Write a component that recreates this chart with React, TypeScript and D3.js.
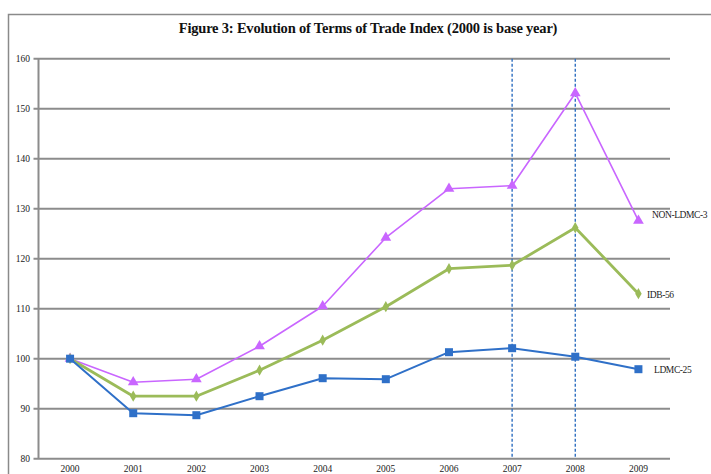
import React from "react";
import * as d3 from "d3";

const years = ["2000","2001","2002","2003","2004","2005","2006","2007","2008","2009"];
const ldmc25 = [100, 89.1, 88.7, 92.5, 96.1, 95.9, 101.3, 102.1, 100.4, 97.9];
const idb56 = [100, 92.5, 92.5, 97.7, 103.7, 110.4, 118.0, 118.7, 126.2, 113.0];
const nonLdmc3 = [100, 95.3, 95.9, 102.5, 110.5, 124.2, 134.0, 134.6, 153.1, 127.6];
const yTicks = [80, 90, 100, 110, 120, 130, 140, 150, 160];
const markedYears = ["2007", "2008"];

const W = 711, H = 474;
const left = 38.5, right = 670, top = 58.7, bottom = 458.7;

export default function App() {
  const x = d3.scalePoint<string>().domain(years).range([left, right]).padding(0.5);
  const y = d3.scaleLinear().domain([80, 160]).range([bottom, top]);
  const line = d3.line<number>().x((_, i) => x(years[i])!).y(d => y(d));
  const font = "'Liberation Serif', 'Times New Roman', serif";

  const series = [
    { name: "NON-LDMC-3", data: nonLdmc3, color: "#C966FF", width: 1.6, marker: "tri", lx: 652, ldy: -3 },
    { name: "IDB-56", data: idb56, color: "#9BBB59", width: 2.8, marker: "dia", lx: 647, ldy: 4 },
    { name: "LDMC-25", data: ldmc25, color: "#2F70C8", width: 2, marker: "sq", lx: 654, ldy: 4 },
  ];

  const marker = (type: string, cx: number, cy: number, color: string, key: string) => {
    if (type === "sq") return <rect key={key} x={cx - 4} y={cy - 4} width={8} height={8} fill={color} />;
    if (type === "tri") return <path key={key} d={d3.symbol(d3.symbolTriangle, 50)()!} transform={`translate(${cx},${cy})`} fill={color} />;
    return <path key={key} d={d3.symbol(d3.symbolDiamond, 36)()!} transform={`translate(${cx},${cy})`} fill={color} />;
  };

  return (
    <svg width={W} height={H} style={{ position: "absolute", left: 0, top: 0, background: "#fff" }} fontFamily={font}>
      <rect x={8.5} y={14.5} width={720} height={480} fill="none" stroke="#8a8a8a" strokeWidth={1.5} />
      <text x={368} y={33} textAnchor="middle" fontSize={14.5} fontWeight="bold" fill="#111" style={{ letterSpacing: "-0.2px" }}>
        Figure 3: Evolution of Terms of Trade Index (2000 is base year)
      </text>
      {yTicks.map(t => (
        <g key={t}>
          <line x1={left - 5} x2={right} y1={y(t)} y2={y(t)} stroke="#8c8c8c" strokeWidth={2} />
          <text x={30} y={y(t) + 3.5} textAnchor="end" fontSize={9.5} fill="#222">{t}</text>
        </g>
      ))}
      <line x1={left} x2={left} y1={top} y2={bottom} stroke="#8c8c8c" strokeWidth={2} />
      {years.map(yr => (
        <text key={yr} x={x(yr)!} y={472} textAnchor="middle" fontSize={9.5} fill="#222">{yr}</text>
      ))}
      {markedYears.map(yr => (
        <line key={yr} x1={x(yr)!} x2={x(yr)!} y1={top} y2={bottom} stroke="#2F6FC0" strokeWidth={1.4} strokeDasharray="3,2" />
      ))}
      {series.map(s => (
        <g key={s.name}>
          <path d={line(s.data)!} fill="none" stroke={s.color} strokeWidth={s.width} strokeLinejoin="round" />
          {s.data.map((v, i) => marker(s.marker, x(years[i])!, y(v), s.color, s.name + i))}
          <text x={s.lx} y={y(s.data[s.data.length - 1]) + s.ldy} fontSize={9.5} fill="#222" style={{ letterSpacing: "-0.4px" }}>{s.name}</text>
        </g>
      ))}
    </svg>
  );
}
